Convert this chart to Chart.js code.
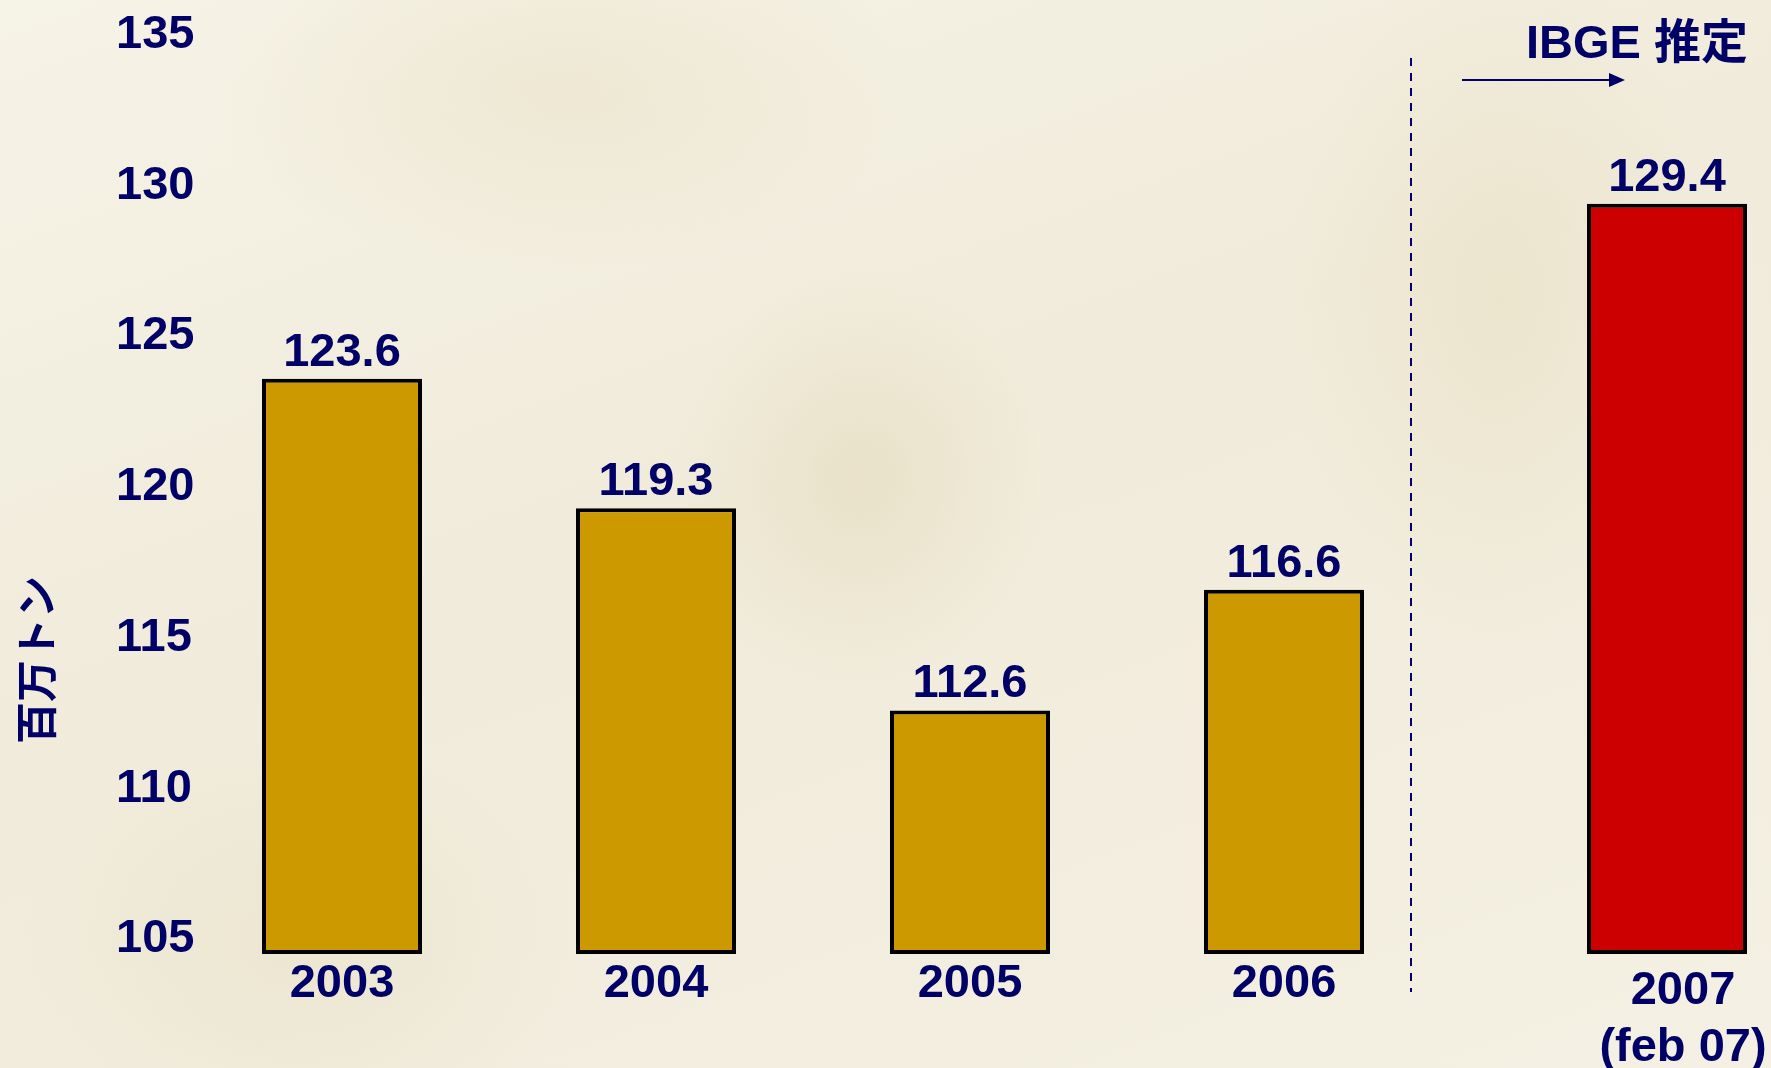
<!DOCTYPE html>
<html>
<head>
<meta charset="utf-8">
<script src="https://cdn.jsdelivr.net/npm/chart.js@4.4.1/dist/chart.umd.min.js"></script>
<style>
  html, body { margin: 0; padding: 0; }
  body {
    width: 1771px; height: 1068px; overflow: hidden;
    background:
      radial-gradient(ellipse 260px 300px at 860px 480px, rgba(225,214,180,0.45), rgba(225,214,180,0) 70%),
      radial-gradient(ellipse 500px 260px at 560px 90px, rgba(232,224,196,0.5), rgba(232,224,196,0) 70%),
      radial-gradient(ellipse 300px 500px at 1500px 300px, rgba(230,221,190,0.45), rgba(230,221,190,0) 70%),
      radial-gradient(ellipse 400px 300px at 300px 950px, rgba(228,220,192,0.4), rgba(228,220,192,0) 70%),
      linear-gradient(160deg, #f6f3e7 0%, #f0ebda 45%, #f4f0e3 100%);
  }
  #wrap { position: relative; width: 1771px; height: 1068px; }
</style>
</head>
<body>
<div id="wrap"><canvas id="chart"></canvas></div>
<script>
const years = ["2003", "2004", "2005", "2006"];
const values = [123.6, 119.3, 112.6, 116.6];
const estLabel = ["2007", "(feb 07)"];
const estValue = [129.4];
const yTicks = [105, 110, 115, 120, 125, 130, 135];
const yMin = 104.52;
const yMax = 135;
const yTitle = "百万トン";
const estTitle = "IBGE 推定";

const navy = "#000066";
const font = "'Liberation Sans', 'Noto Sans CJK JP', Arial, sans-serif";
Chart.defaults.font.family = font;
Chart.defaults.color = navy;

// value labels + separator, arrow, titles
const extras = {
    id: "extras",
    afterDatasetsDraw(chart) {
        const ctx = chart.ctx;
        const area = chart.chartArea;
        ctx.save();
        ctx.fillStyle = navy;
        ctx.font = "bold 47px " + font;
        ctx.textAlign = "center";
        ctx.textBaseline = "alphabetic";
        chart.data.datasets.forEach((ds, i) => {
            chart.getDatasetMeta(i).data.forEach((bar, j) => {
                ctx.fillText(ds.data[j].toFixed(1), bar.x, bar.y - 13);
            });
        });

        // dashed separator
        const xs = chart.scales.x;
        const x2 = chart.scales.x2;
        const sepX = xs.right - 30;
        ctx.strokeStyle = navy;
        ctx.lineWidth = 2;
        ctx.setLineDash([8, 7]);
        ctx.beginPath();
        ctx.moveTo(sepX, 58);
        ctx.lineTo(sepX, 992);
        ctx.stroke();
        ctx.setLineDash([]);

        // IBGE label and arrow
        ctx.textAlign = "right";
        ctx.fillText(estTitle, x2.right - 23, 58);
        const ay = 80, ax0 = sepX + 51, ax1 = sepX + 214;
        ctx.lineWidth = 2;
        ctx.beginPath();
        ctx.moveTo(ax0, ay);
        ctx.lineTo(ax1 - 14, ay);
        ctx.stroke();
        ctx.beginPath();
        ctx.moveTo(ax1, ay);
        ctx.lineTo(ax1 - 16, ay - 7);
        ctx.lineTo(ax1 - 16, ay + 7);
        ctx.closePath();
        ctx.fill();

        // y axis title
        ctx.translate(40, area.top + (area.bottom - area.top) * 0.68);
        ctx.rotate(-Math.PI / 2);
        ctx.font = "bold 42px " + font;
        ctx.textAlign = "center";
        ctx.textBaseline = "middle";
        ctx.fillText(yTitle, 0, 0);
        ctx.restore();
    }
};

const tickFont = { size: 47, weight: "bold", lineHeight: 1.2 };

function fixX(axis) {
    axis.height = 114;
    axis.paddingLeft = 0;
    axis.paddingRight = 0;
}

new Chart(document.getElementById("chart"), {
    type: "bar",
    data: {
        datasets: [
            {
                data: values,
                xAxisID: "x",
                base: yMin,
                grouped: false,
                categoryPercentage: 1,
                barPercentage: 160 / 314,
                backgroundColor: "#cc9900",
                borderColor: "#000000",
                borderWidth: 4,
                borderSkipped: false
            },
            {
                data: estValue,
                xAxisID: "x2",
                base: yMin,
                grouped: false,
                categoryPercentage: 1,
                barPercentage: 160 / 208,
                backgroundColor: "#cc0000",
                borderColor: "#000000",
                borderWidth: 4,
                borderSkipped: false
            }
        ]
    },
    options: {
        responsive: true,
        maintainAspectRatio: false,
        animation: false,
        layout: { padding: { top: 35, right: 0, bottom: 0, left: 0 } },
        plugins: { legend: { display: false }, tooltip: { enabled: false } },
        scales: {
            x: {
                type: "category",
                labels: years,
                stack: "row",
                stackWeight: 1256,
                afterFit: fixX,
                grid: { display: false, drawTicks: false },
                border: { display: false },
                ticks: { font: tickFont, padding: 2, color: navy, maxRotation: 0, autoSkip: false }
            },
            xg: {
                type: "category",
                labels: [""],
                stack: "row",
                stackWeight: 122,
                afterFit: fixX,
                grid: { display: false, drawTicks: false },
                border: { display: false },
                ticks: { font: tickFont, padding: 2, display: false }
            },
            x2: {
                type: "category",
                labels: [estLabel],
                stack: "row",
                stackWeight: 208,
                afterFit: fixX,
                grid: { display: false, drawTicks: false },
                border: { display: false },
                ticks: { font: tickFont, padding: 9, color: navy, labelOffset: 16, maxRotation: 0, autoSkip: false }
            },
            y: {
                min: yMin,
                max: yMax,
                afterBuildTicks: (axis) => { axis.ticks = yTicks.map(v => ({ value: v })); },
                afterFit: (axis) => { axis.width = 185; },
                grid: { display: false, drawTicks: false },
                border: { display: false },
                ticks: { font: tickFont, mirror: true, padding: -69, color: navy }
            }
        }
    },
    plugins: [extras]
});
</script>
</body>
</html>
